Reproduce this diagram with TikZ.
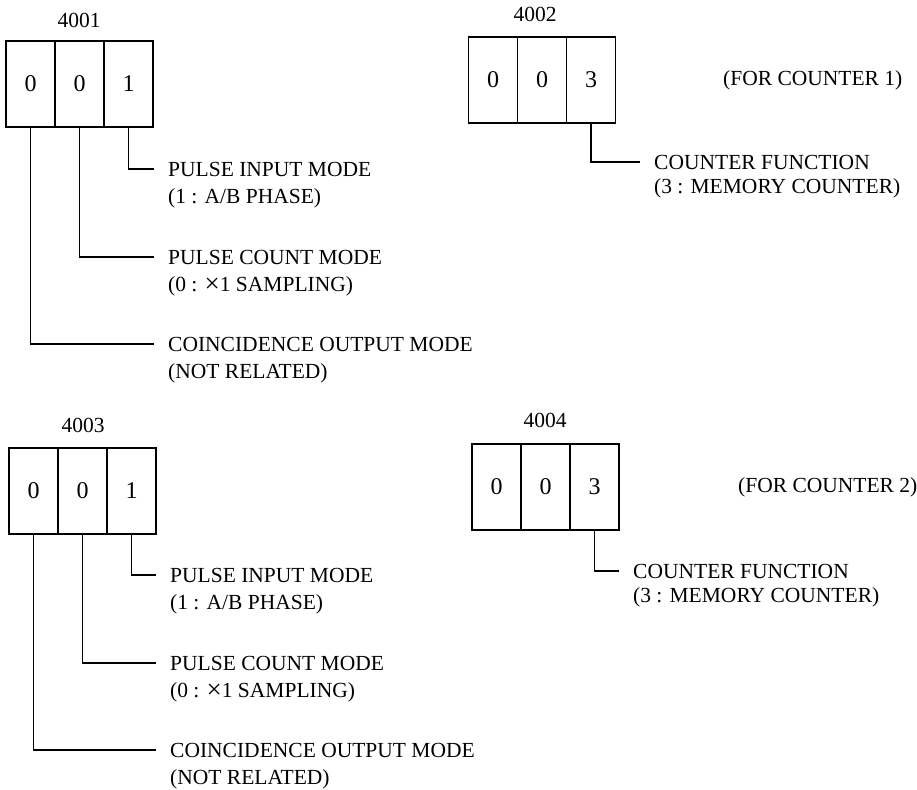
\documentclass[tikz,border=0pt]{standalone}
\usepackage{fontspec}
\setmainfont{Liberation Serif}
\newcommand{\bigtimes}{{\fontsize{27}{26}\selectfont\raisebox{-1.2pt}{×}}}
\begin{document}
\begin{tikzpicture}[x=1pt,y=-1pt,
  cell/.style={draw, line width=1.7pt, minimum width=49pt, minimum height=86pt, inner sep=0pt, font=\fontsize{24}{26}\selectfont},
  hdr/.style={font=\fontsize{21.5}{26}\selectfont, inner sep=0pt},
  first/.style={font=\fontsize{21.5}{26}\selectfont, anchor=west, inner xsep=14pt, inner ysep=0pt},
  second/.style={font=\fontsize{21.5}{26}\selectfont, anchor=base west, inner xsep=14pt, inner ysep=0pt},
  note/.style={font=\fontsize{21.5}{26}\selectfont, anchor=west, inner sep=0pt},
  lead/.style={line width=1.6pt}]
\useasboundingbox (0,0) rectangle (917,789);

% ---------- 4001 ----------
\node[hdr] (h1) at (79,20) {4001};
\node[cell] (a1) at (30.5,84) {0};
\node[cell] (a2) at (79.5,84) {0};
\node[cell] (a3) at (128.5,84) {1};
\node[first]  (a3t) at (154,169) {PULSE INPUT MODE};
\node[second] (a3u) at (154,203) {(1 : A/B PHASE)};
\node[first]  (a2t) at (154,257) {PULSE COUNT MODE};
\node[second] (a2u) at (154,291) {(0 : \bigtimes1 SAMPLING)};
\node[first]  (a1t) at (154,344) {COINCIDENCE OUTPUT MODE};
\node[second] (a1u) at (154,378) {(NOT RELATED)};
\draw[lead] (a3.south) |- (a3t.west);
\draw[lead] (a2.south) |- (a2t.west);
\draw[lead] (a1.south) |- (a1t.west);

% ---------- 4002 ----------
\node[hdr] (h2) at (535,14) {4002};
\node[cell] (b1) at (493,80) {0};
\node[cell] (b2) at (542,80) {0};
\node[cell] (b3) at (591,80) {3};
\node[note] (n1) at (723,80) {(FOR COUNTER 1)};
\node[first]  (b3t) at (640,162) {COUNTER FUNCTION};
\node[second] (b3u) at (640,193) {(3 : MEMORY COUNTER)};
\draw[lead] (b3.south) |- (b3t.west);

% ---------- 4003 ----------
\node[hdr] (h3) at (83,425) {4003};
\node[cell] (c1) at (33.5,491) {0};
\node[cell] (c2) at (82.5,491) {0};
\node[cell] (c3) at (131.5,491) {1};
\node[first]  (c3t) at (156,575) {PULSE INPUT MODE};
\node[second] (c3u) at (156,609) {(1 : A/B PHASE)};
\node[first]  (c2t) at (156,663) {PULSE COUNT MODE};
\node[second] (c2u) at (156,697) {(0 : \bigtimes1 SAMPLING)};
\node[first]  (c1t) at (156,750) {COINCIDENCE OUTPUT MODE};
\node[second] (c1u) at (156,784) {(NOT RELATED)};
\draw[lead] (c3.south) |- (c3t.west);
\draw[lead] (c2.south) |- (c2t.west);
\draw[lead] (c1.south) |- (c1t.west);

% ---------- 4004 ----------
\node[hdr] (h4) at (545,420) {4004};
\node[cell] (d1) at (496.5,487) {0};
\node[cell] (d2) at (545.5,487) {0};
\node[cell] (d3) at (594.5,487) {3};
\node[note] (n2) at (738,487) {(FOR COUNTER 2)};
\node[first]  (d3t) at (619,571) {COUNTER FUNCTION};
\node[second] (d3u) at (619,602) {(3 : MEMORY COUNTER)};
\draw[lead] (d3.south) |- (d3t.west);
\end{tikzpicture}
\end{document}
